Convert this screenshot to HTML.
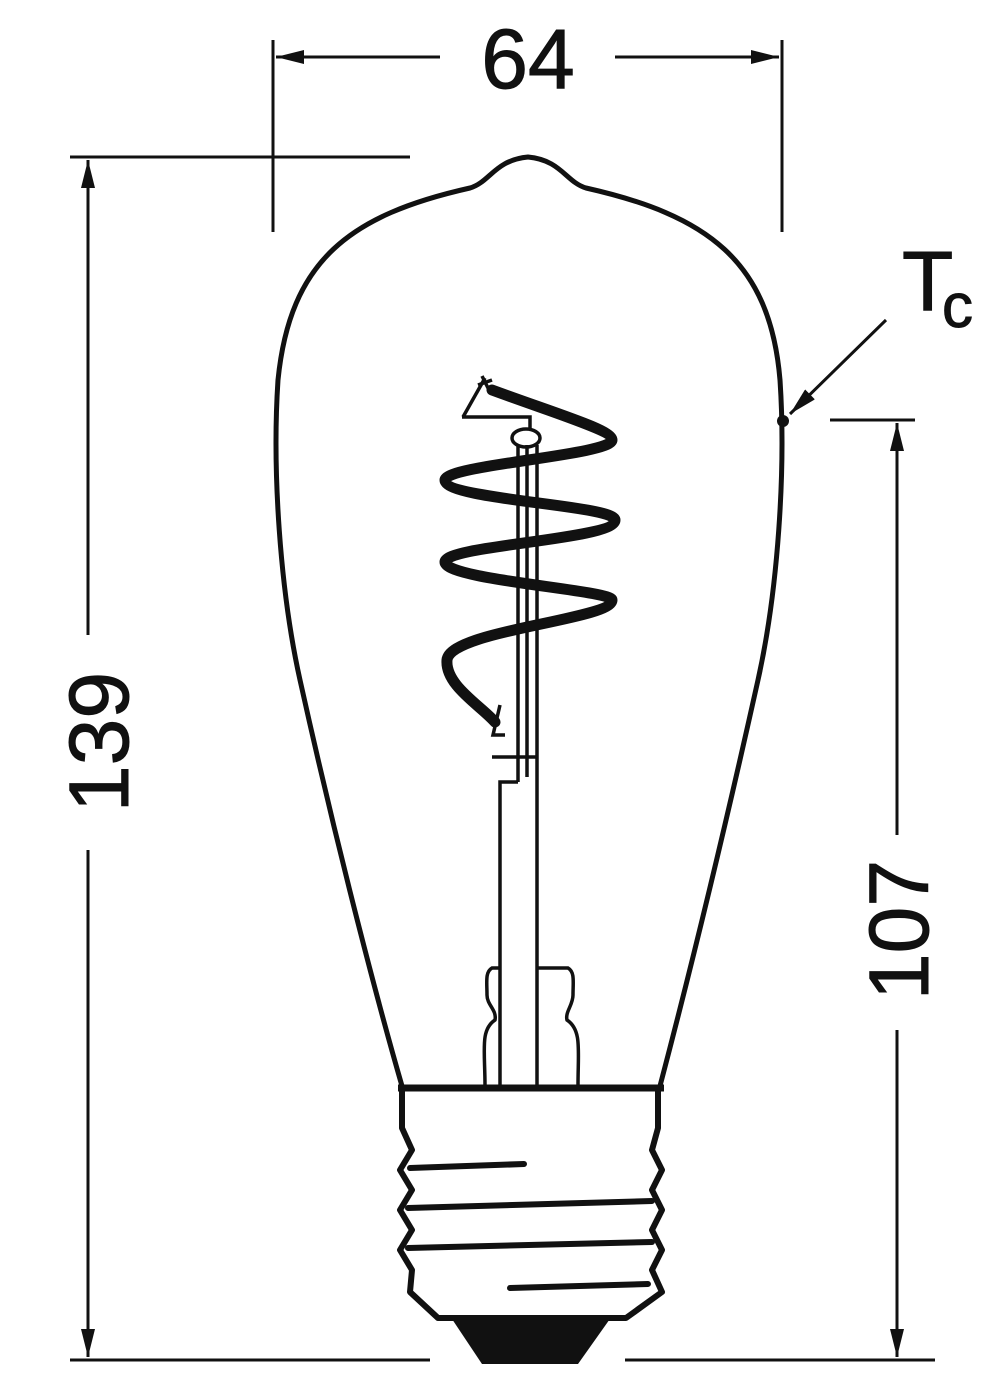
<!DOCTYPE html>
<html><head><meta charset="utf-8"><style>html,body{margin:0;padding:0;background:#fff}svg{display:block}</style></head>
<body>
<svg width="1000" height="1382" viewBox="0 0 1000 1382" xmlns="http://www.w3.org/2000/svg">
<defs>
<marker id="b" viewBox="0 0 28 14" refX="28" refY="7" markerWidth="28" markerHeight="14" markerUnits="userSpaceOnUse" orient="auto-start-reverse"><path d="M0,0 L28,7 L0,14 z" fill="#111"/></marker>
</defs>
<g stroke="#111" fill="none" stroke-width="3">
<line x1="273" y1="40" x2="273" y2="232"/>
<line x1="782" y1="40" x2="782" y2="232"/>
<line x1="70" y1="157" x2="410" y2="157"/>
<line x1="70" y1="1360" x2="430" y2="1360"/>
<line x1="625" y1="1360" x2="935" y2="1360"/>
<line x1="830" y1="420" x2="915" y2="420"/>
<line x1="440" y1="57" x2="276" y2="57" marker-end="url(#b)"/>
<line x1="615" y1="57" x2="779" y2="57" marker-end="url(#b)"/>
<line x1="88" y1="635" x2="88" y2="160" marker-end="url(#b)"/>
<line x1="88" y1="850" x2="88" y2="1357" marker-end="url(#b)"/>
<line x1="897" y1="835" x2="897" y2="423" marker-end="url(#b)"/>
<line x1="897" y1="1030" x2="897" y2="1357" marker-end="url(#b)"/>
<line x1="886" y1="320" x2="790" y2="414" marker-end="url(#b)"/>
<path stroke-width="5" d="M402,1086 C380,1010 340,860 300,680 C280,590 272,470 278,380 C290,260 350,215 470,188 C490,182 495,160 528,157 C561,160 566,182 586,188 C706,215 770,260 780,380 C786,470 778,590 758,680 C718,860 680,1010 660,1086"/>
<line x1="398" y1="1088" x2="664" y2="1088" stroke-width="7"/>
<path stroke-width="6" stroke-linejoin="round" d="M402,1090 L402,1128 L412,1150 L400,1170 L412,1190 L400,1210 L412,1230 L400,1250 L412,1270 L410,1292 L438,1318 L626,1318 L662,1292 L652,1270 L662,1250 L652,1230 L662,1210 L652,1190 L662,1170 L652,1150 L658,1128 L658,1090"/>
<path fill="#111" stroke="none" d="M450,1316 L612,1316 L578,1364 L482,1364 z"/>
<g stroke-width="6" stroke-linecap="round">
<line x1="410" y1="1168" x2="524" y2="1164"/>
<line x1="408" y1="1208" x2="652" y2="1201"/>
<line x1="408" y1="1248" x2="652" y2="1242"/>
<line x1="510" y1="1288" x2="648" y2="1284"/>
</g>
<g stroke-width="3.5">
<line x1="518" y1="445" x2="518" y2="782"/>
<line x1="527" y1="445" x2="527" y2="757"/>
<line x1="537" y1="445" x2="537" y2="1086"/>
<path d="M518,782 L500,782 L500,1086"/>
<path d="M492,757 L537,757"/>
<path d="M527,757 L527,777"/>
<path d="M462,417 L530,417 L530,430"/>
<ellipse cx="526" cy="438" rx="14" ry="9"/>
<path d="M500,968 L492,968 C485,972 487,982 487,995 C487,1005 497,1010 495,1020 C480,1030 485,1050 485,1086"/>
<path d="M537,968 L568,968 C575,972 573,982 573,995 C573,1005 565,1012 567,1020 C582,1030 578,1050 578,1086"/>
<line x1="485" y1="378" x2="463" y2="417"/>
<line x1="478" y1="385" x2="492" y2="380"/>
<line x1="482" y1="376" x2="490" y2="392"/>
<path d="M500,705 L493,735 L505,735"/>
</g>
<path stroke-width="11" stroke-linecap="round" d="M492,390 C560,415 612,430 612,440 C612,455 445,465 445,480 C445,500 615,505 615,520 C615,540 445,545 445,562 C445,580 612,590 612,600 C612,620 450,630 447,660 C445,685 480,705 495,722"/>
</g>
<circle cx="783" cy="421" r="6" fill="#111"/>
<g font-family="Liberation Sans, sans-serif" fill="#111" stroke="#111" stroke-width="1">
<text x="528" y="88" font-size="84" text-anchor="middle">64</text>
<text transform="translate(128,742) rotate(-90)" font-size="84" text-anchor="middle">139</text>
<text transform="translate(928,930) rotate(-90)" font-size="84" text-anchor="middle">107</text>
<text x="902" y="310" font-size="84">T</text>
<text x="942" y="327" font-size="62">c</text>
</g>
</svg>
</body></html>
